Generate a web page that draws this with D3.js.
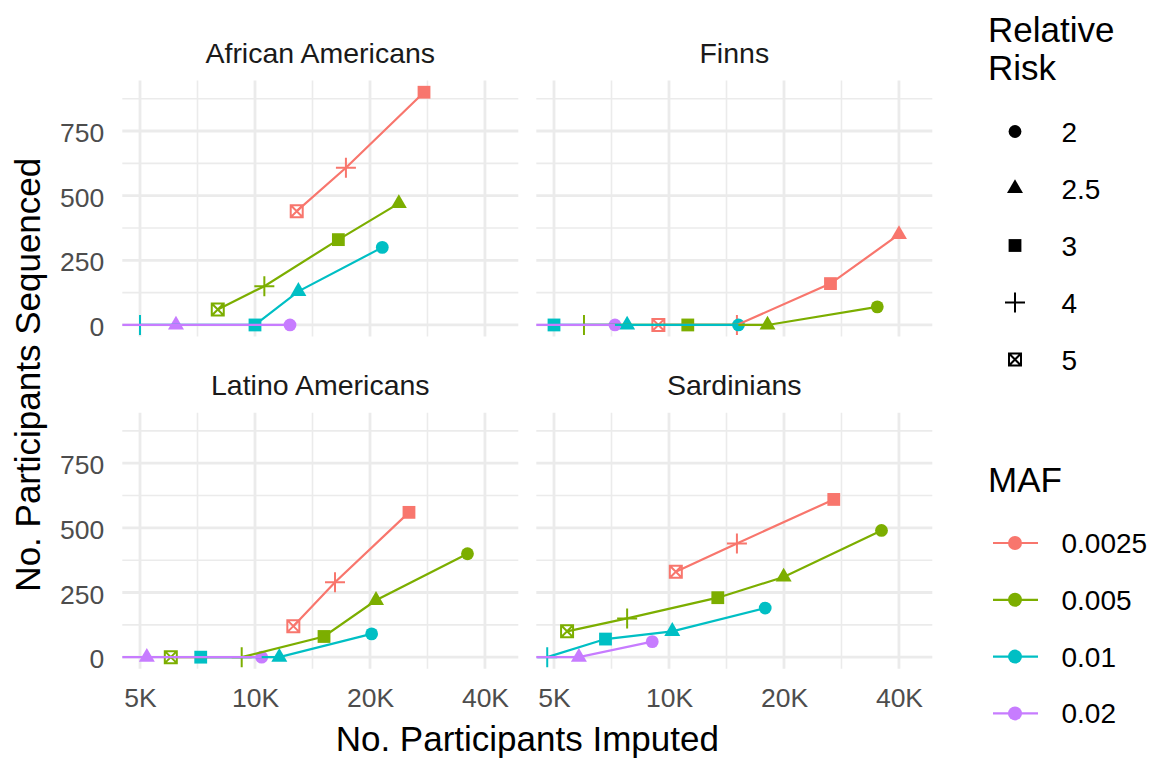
<!DOCTYPE html>
<html>
<head>
<meta charset="utf-8">
<script src="https://cdn.jsdelivr.net/npm/d3@7"></script>
<style>
  html, body { margin: 0; padding: 0; background: #fff; }
  svg { display: block; font-family: "Liberation Sans", Arial, Helvetica, sans-serif; }
</style>
</head>
<body>
<svg id="chart" width="1154" height="759"></svg>
<script>
// ---- data -------------------------------------------------------------
const panelNames = ["African Americans", "Finns", "Latino Americans", "Sardinians"];
const mafLevels = ["0.0025", "0.005", "0.01", "0.02"];
const rrLevels = ["2", "2.5", "3", "4", "5"];
const xTickValues = [5000, 10000, 20000, 40000];
const xTickLabels = ["5K", "10K", "20K", "40K"];
const yTickValues = [0, 250, 500, 750];

// rows: [MAF, relative risk, participants imputed, participants sequenced]
const africanAmericans = [
  ["0.0025", "5", 12860, 440], ["0.0025", "4", 17300, 608], ["0.0025", "3", 27700, 900],
  ["0.005", "5", 7990, 60], ["0.005", "4", 10580, 150], ["0.005", "3", 16530, 330], ["0.005", "2.5", 23800, 470],
  ["0.01", "4", 5000, 0], ["0.01", "3", 10000, 0], ["0.01", "2.5", 12990, 130], ["0.01", "2", 21540, 300],
  ["0.02", "3", 3100, 0], ["0.02", "2.5", 6210, 0], ["0.02", "2", 12350, 0]
];
const finns = [
  ["0.0025", "5", 9380, 0], ["0.0025", "4", 15060, 0], ["0.0025", "3", 26470, 160], ["0.0025", "2.5", 40000, 350],
  ["0.005", "4", 5990, 0], ["0.005", "3", 11200, 0], ["0.005", "2.5", 18110, 0], ["0.005", "2", 35100, 70],
  ["0.01", "3", 5000, 0], ["0.01", "2.5", 7770, 0], ["0.01", "2", 15200, 0],
  ["0.02", "2.5", 3600, 0], ["0.02", "2", 7220, 0]
];
const latinoAmericans = [
  ["0.0025", "5", 12600, 120], ["0.0025", "4", 16200, 290], ["0.0025", "3", 25300, 560],
  ["0.005", "5", 6020, 0], ["0.005", "4", 9230, 0], ["0.005", "3", 15160, 80], ["0.005", "2.5", 20740, 220], ["0.005", "2", 36000, 400],
  ["0.01", "3", 7210, 0], ["0.01", "2.5", 11580, 0], ["0.01", "2", 20200, 90],
  ["0.02", "3", 2600, 0], ["0.02", "2.5", 5210, 0], ["0.02", "2", 10410, 0]
];
const sardinians = [
  ["0.0025", "5", 10420, 330], ["0.0025", "4", 15060, 440], ["0.0025", "3", 27000, 610],
  ["0.005", "5", 5410, 100], ["0.005", "4", 7770, 150], ["0.005", "3", 13420, 230], ["0.005", "2.5", 19960, 310], ["0.005", "2", 36000, 490],
  ["0.01", "4", 4800, 0], ["0.01", "3", 6820, 70], ["0.01", "2.5", 10200, 100], ["0.01", "2", 17860, 190],
  ["0.02", "3", 2900, 0], ["0.02", "2.5", 5810, 0], ["0.02", "2", 9040, 60]
];
const panelRows = [africanAmericans, finns, latinoAmericans, sardinians];

// ---- layout -----------------------------------------------------------
const svg = d3.select("#chart");
const panelW = 396, panelH = 256;
const colX = [122.3, 536.3];
const rowY = [80.6, 412.8];

const x = d3.scaleLog().domain([4494, 48900]).range([0, panelW]);
const y = d3.scaleLinear().domain([-45, 945]).range([panelH, 0]);
const color = d3.scaleOrdinal().domain(mafLevels).range(["#F8766D", "#7CAE00", "#00BFC4", "#C77CFF"]);

const xMinor = d3.pairs(xTickValues).map(([a, b]) => Math.sqrt(a * b));
const yMinor = d3.pairs(yTickValues).map(([a, b]) => (a + b) / 2).concat([875]);

// ---- marker shapes ----------------------------------------------------
const triS = 5.94;
const triPath = `M0,${-1.5551 * triS}L${1.3468 * triS},${0.7776 * triS}L${-1.3468 * triS},${0.7776 * triS}Z`;
function drawShape(g, rr, col) {
  if (rr === "2") {
    g.append("circle").attr("r", 6.4).attr("fill", col);
  } else if (rr === "2.5") {
    g.append("path").attr("d", triPath).attr("fill", col);
  } else if (rr === "3") {
    g.append("rect").attr("x", -6.4).attr("y", -6.4).attr("width", 12.8).attr("height", 12.8).attr("fill", col);
  } else if (rr === "4") {
    g.append("path").attr("d", "M-10,0H10M0,-10V10").attr("stroke", col).attr("stroke-width", 2).attr("fill", "none");
  } else {
    g.append("path").attr("d", "M-6,-6H6V6H-6ZM-6,-6L6,6M6,-6L-6,6")
      .attr("stroke", col).attr("stroke-width", 2).attr("fill", "none");
  }
}

const defs = svg.append("defs");

// ---- panels -----------------------------------------------------------
panelNames.forEach((name, i) => {
  const px = colX[i % 2], py = rowY[Math.floor(i / 2)];
  const g = svg.append("g").attr("transform", `translate(${px},${py})`);

  defs.append("clipPath").attr("id", `clip${i}`)
    .append("rect").attr("width", panelW).attr("height", panelH);

  // grid
  const grid = g.append("g").attr("fill", "none").attr("stroke", "#EBEBEB");
  grid.selectAll(".xmin").data(xMinor).join("line")
    .attr("x1", d => x(d)).attr("x2", d => x(d)).attr("y1", 0).attr("y2", panelH)
    .attr("stroke-width", 1.6);
  grid.selectAll(".ymin").data(yMinor).join("line")
    .attr("x1", 0).attr("x2", panelW).attr("y1", d => y(d)).attr("y2", d => y(d))
    .attr("stroke-width", 1.6);
  grid.selectAll(".xmaj").data(xTickValues).join("line")
    .attr("x1", d => x(d)).attr("x2", d => x(d)).attr("y1", 0).attr("y2", panelH)
    .attr("stroke-width", 2.8);
  grid.selectAll(".ymaj").data(yTickValues).join("line")
    .attr("x1", 0).attr("x2", panelW).attr("y1", d => y(d)).attr("y2", d => y(d))
    .attr("stroke-width", 2.8);

  // strip title
  svg.append("text")
    .attr("x", px + panelW / 2).attr("y", py - 17.5)
    .attr("text-anchor", "middle").attr("font-size", 28.5).attr("fill", "#1A1A1A")
    .text(name);

  const rows = panelRows[i].map(r => ({ maf: r[0], rr: r[1], imp: r[2], seq: r[3] }));
  const plot = g.append("g").attr("clip-path", `url(#clip${i})`);

  // points first, connecting lines drawn on top
  mafLevels.forEach(m => {
    rows.filter(d => d.maf === m).forEach(d => {
      const mg = plot.append("g").attr("transform", `translate(${x(d.imp)},${y(d.seq)})`);
      drawShape(mg, d.rr, color(m));
    });
  });
  const line = d3.line().x(d => x(d.imp)).y(d => y(d.seq));
  mafLevels.forEach(m => {
    const pts = rows.filter(d => d.maf === m).sort((a, b) => a.imp - b.imp);
    plot.append("path").datum(pts).attr("d", line)
      .attr("fill", "none").attr("stroke", color(m)).attr("stroke-width", 2.2);
  });

  // axes: left column gets y labels, bottom row gets x labels
  if (i % 2 === 0) {
    const ya = g.append("g").call(d3.axisLeft(y).tickValues(yTickValues).tickSize(0).tickPadding(18));
    ya.select(".domain").remove();
    ya.selectAll("text").attr("font-size", 26.5).attr("fill", "#4D4D4D")
      .attr("font-family", "Liberation Sans, Arial, sans-serif").attr("dy", "0.4em");
  }
  if (i >= 2) {
    const xa = g.append("g").attr("transform", `translate(0,${panelH})`)
      .call(d3.axisBottom(x).tickValues(xTickValues).tickFormat((d, k) => xTickLabels[k]).tickSize(0).tickPadding(19));
    xa.select(".domain").remove();
    xa.selectAll("text").attr("font-size", 26.5).attr("fill", "#4D4D4D")
      .attr("font-family", "Liberation Sans, Arial, sans-serif");
  }
});

// ---- axis titles ------------------------------------------------------
svg.append("text")
  .attr("x", (colX[0] + colX[1] + panelW) / 2).attr("y", 751)
  .attr("text-anchor", "middle").attr("font-size", 35).attr("fill", "#000")
  .text("No. Participants Imputed");
svg.append("text")
  .attr("transform", `translate(40,${(rowY[0] + rowY[1] + panelH) / 2}) rotate(-90)`)
  .attr("text-anchor", "middle").attr("font-size", 35).attr("fill", "#000")
  .text("No. Participants Sequenced");

// ---- legends ----------------------------------------------------------
const lg = svg.append("g");
lg.append("text").attr("x", 988).attr("y", 41.5).attr("font-size", 35).text("Relative");
lg.append("text").attr("x", 988).attr("y", 80).attr("font-size", 35).text("Risk");
rrLevels.forEach((rr, k) => {
  const cy = 131.5 + k * 57;
  const sg = lg.append("g").attr("transform", `translate(1015,${cy})`);
  drawShape(sg, rr, "#000");
  lg.append("text").attr("x", 1061.5).attr("y", cy + 10).attr("font-size", 28).text(rr);
});

lg.append("text").attr("x", 988).attr("y", 491.5).attr("font-size", 35).text("MAF");
mafLevels.forEach((m, k) => {
  const cy = 543 + k * 56.8;
  lg.append("circle").attr("cx", 1015).attr("cy", cy).attr("r", 7).attr("fill", color(m));
  lg.append("line").attr("x1", 993).attr("x2", 1038).attr("y1", cy).attr("y2", cy)
    .attr("stroke", color(m)).attr("stroke-width", 2.2);
  lg.append("text").attr("x", 1061.5).attr("y", cy + 10).attr("font-size", 28).text(m);
});
</script>
</body>
</html>
